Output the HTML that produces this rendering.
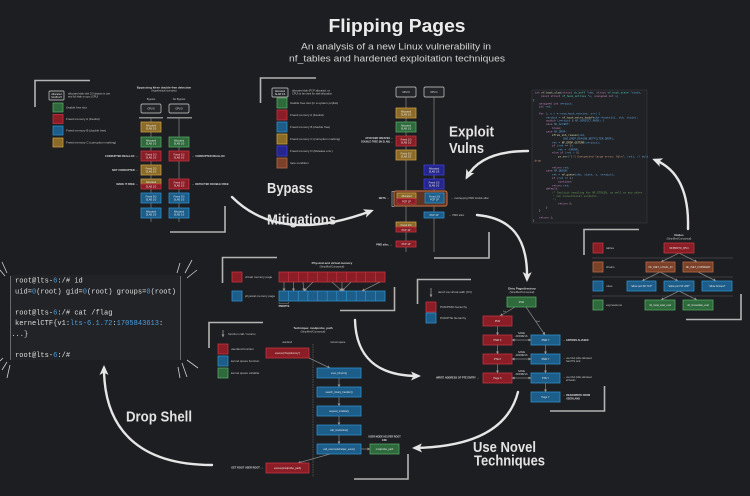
<!DOCTYPE html>
<html><head><meta charset="utf-8"><style>
html,body{margin:0;padding:0;background:#1d1e21;overflow:hidden}
svg{display:block}
.r{fill:#8a1d25;stroke:#c33441;stroke-width:.8}
.g{fill:#2e6a3b;stroke:#54a563;stroke-width:.8}
.b{fill:#1c5d8a;stroke:#2f8fcb;stroke-width:.8}
.y{fill:#8c6b28;stroke:#c99d42;stroke-width:.8}
.n{fill:#25258e;stroke:#3e3ed6;stroke-width:.8}
.o{fill:#7b4129;stroke:#b76a47;stroke-width:.8}
.k{fill:#242528;stroke:#a8a8a8;stroke-width:.9}
.br{fill:none;stroke:#b4b4b4;stroke-width:1.6}
.ln{stroke:#858585;stroke-width:.7;fill:none}
.t{font-family:"Liberation Sans",sans-serif;font-size:3px;fill:#c4c4c4}
.tb{font-family:"Liberation Sans",sans-serif;font-size:3px;fill:#dcdcdc;font-weight:bold}
.bt{font-family:"Liberation Sans",sans-serif;font-size:2.5px;fill:#e6e6e6;text-anchor:middle}
.big{font-family:"Liberation Sans",sans-serif;font-weight:bold;font-size:15px;fill:#e2e2e2}
.arr{fill:none;stroke:#e6e6e6;stroke-width:2.4;stroke-linecap:round}
.term{font-family:"Liberation Mono",monospace;font-size:7.6px;fill:#dedede}
.num{fill:#4a9ee0}
.code{font-family:"Liberation Mono",monospace;font-size:2.7px;fill:#5fa3d9}
.kw{fill:#c586c0}.fn{fill:#dcdcaa}.cm{fill:#6a9955}.ty{fill:#4ec9b0}.st{fill:#ce9178}
.sp{stroke:#cfcfcf;stroke-width:.8}
</style></head><body>
<svg width="750" height="496" viewBox="0 0 750 496" xmlns="http://www.w3.org/2000/svg">
<defs>
<marker id="ah" markerUnits="userSpaceOnUse" markerWidth="10" markerHeight="10" viewBox="0 0 10 10" refX="7" refY="5" orient="auto"><path d="M0,0.5 L10,5 L0,9.5 L2.5,5 z" fill="#e6e6e6"/></marker>
<marker id="sa" markerUnits="userSpaceOnUse" markerWidth="3" markerHeight="3" viewBox="0 0 10 10" refX="9" refY="5" orient="auto"><path d="M0,0 L10,5 L0,10 z" fill="#9a9a9a"/></marker>
<marker id="sb" markerUnits="userSpaceOnUse" markerWidth="3" markerHeight="3" viewBox="0 0 10 10" refX="1" refY="5" orient="auto"><path d="M10,0 L0,5 L10,10 z" fill="#9a9a9a"/></marker>
</defs>
<rect width="750" height="496" fill="#1d1e21"/>

<!-- Title -->
<text x="397" y="32" text-anchor="middle" textLength="137" lengthAdjust="spacingAndGlyphs" style="font-family:'Liberation Sans',sans-serif;font-weight:bold;font-size:18.5px;fill:#ececec">Flipping Pages</text>
<text x="396" y="49.5" text-anchor="middle" textLength="190" lengthAdjust="spacingAndGlyphs" style="font-family:'Liberation Sans',sans-serif;font-size:9.3px;fill:#d4d4d4">An analysis of a new Linux vulnerability in</text>
<text x="397" y="61.5" text-anchor="middle" textLength="216" lengthAdjust="spacingAndGlyphs" style="font-family:'Liberation Sans',sans-serif;font-size:9.3px;fill:#d4d4d4">nf_tables and hardened exploitation techniques</text>

<!-- Big labels -->
<text class="big" x="449" y="136.5" textLength="45" lengthAdjust="spacingAndGlyphs">Exploit</text>
<text class="big" x="449" y="153" textLength="35" lengthAdjust="spacingAndGlyphs">Vulns</text>
<text class="big" x="267" y="193" textLength="46" lengthAdjust="spacingAndGlyphs">Bypass</text>
<text class="big" x="267" y="224.5" textLength="69" lengthAdjust="spacingAndGlyphs">Mitigations</text>
<text class="big" x="126" y="421.5" textLength="66" lengthAdjust="spacingAndGlyphs">Drop Shell</text>
<text class="big" x="473" y="452" textLength="63" lengthAdjust="spacingAndGlyphs">Use Novel</text>
<text class="big" x="474" y="465.5" textLength="71" lengthAdjust="spacingAndGlyphs">Techniques</text>

<!-- Big arrows -->
<path class="arr" d="M232,197 Q280,245 371,211" marker-end="url(#ah)"/>
<path class="arr" d="M528,151 Q481,151 467,177" marker-end="url(#ah)"/>
<path class="arr" d="M688,229 C689,195 680,170 655,160" marker-end="url(#ah)"/>
<path class="arr" d="M477,215 C510,218 528,236 527,279" marker-end="url(#ah)"/>
<path class="arr" d="M355,320 C356,356 376,376 418,376" marker-end="url(#ah)"/>
<path class="arr" d="M518,392 C508,431 470,447 415,448" marker-end="url(#ah)"/>
<path class="arr" d="M212,465 C140,465 104,430 104,368" marker-end="url(#ah)"/>

<!-- ============ Diagram 1 (top-left) ============ -->
<polyline class="br" points="35,107 35,80.5 90,80.5"/>
<polyline class="br" points="170,232 225,232 225,206"/>
<rect class="k" x="49" y="91" width="15" height="9" rx="1"/>
<text class="bt" x="56.5" y="95">Allocated</text><text class="bt" x="56.5" y="98">SLAB 2/3</text>
<text class="t" x="68" y="94.5" style="font-size:2.6px">allocated slab with 2/3 objects in use</text>
<text class="t" x="68" y="97.5" style="font-size:2.6px">and full slab on cpu (CPU)</text>
<rect class="g" x="53" y="103" width="10" height="9"/><text class="t" x="66" y="108.5">Usable free slot</text>
<rect class="r" x="53" y="114.5" width="10" height="9"/><text class="t" x="66" y="120">Freed memory A (freelist)</text>
<rect class="b" x="53" y="126" width="10" height="9"/><text class="t" x="66" y="131.5">Freed memory B (double free)</text>
<rect class="y" x="53" y="138" width="10" height="9"/><text class="t" x="66" y="143.5">Freed memory C (corruption marking)</text>
<text class="tb" x="164" y="88.5" text-anchor="middle">Bypassing kfree double-free detection</text>
<text class="t" x="164" y="91.5" text-anchor="middle" style="font-size:2.5px">(hypothetical scenario)</text>
<text class="t" x="151" y="100" text-anchor="middle" style="font-size:2.6px">Bypass</text>
<text class="t" x="179" y="100" text-anchor="middle" style="font-size:2.6px">No Bypass</text>
<rect class="k" x="141" y="104" width="20" height="9" rx="1.5"/><text class="bt" x="151" y="109.5">CPU 0</text>
<rect class="k" x="169" y="104" width="20" height="9" rx="1.5"/><text class="bt" x="179" y="109.5">CPU 0</text>
<rect x="139" y="117" width="24" height="1.5" fill="#8a8a8a"/>
<rect x="167" y="117" width="25" height="1.5" fill="#8a8a8a"/>
<line class="ln" x1="151" y1="118" x2="151" y2="222"/>
<line class="ln" x1="179" y1="118" x2="179" y2="222"/>
<rect class="y" x="141" y="122" width="20" height="10"/><text class="bt" x="151" y="126.3">Allocated</text><text class="bt" x="151" y="129.5">SLAB 2/3</text>
<rect class="g" x="141" y="137" width="20" height="10"/><text class="bt" x="151" y="141.3">Allocated</text><text class="bt" x="151" y="144.5">SLAB 1/3</text>
<rect class="r" x="141" y="151" width="20" height="10"/><text class="bt" x="151" y="155.3">Freed 1/3</text><text class="bt" x="151" y="158.5">SLAB 1/3</text>
<rect class="y" x="141" y="165" width="20" height="10"/><text class="bt" x="151" y="169.3">Freed 2/3</text><text class="bt" x="151" y="172.5">SLAB 2/3</text>
<rect class="y" x="141" y="179" width="20" height="5"/><rect class="r" x="141" y="184" width="20" height="5"/><text class="bt" x="151" y="183">Allocated</text><text class="bt" x="151" y="187.5">SLAB 1/3</text>
<rect class="b" x="141" y="193" width="20" height="10"/><text class="bt" x="151" y="197.3">Freed 3/3</text><text class="bt" x="151" y="200.5">SLAB 1/3</text>
<rect class="b" x="141" y="208" width="20" height="10"/><text class="bt" x="151" y="212.3">Allocated</text><text class="bt" x="151" y="215.5">SLAB 1/3</text>
<rect class="g" x="169" y="137" width="20" height="10"/><text class="bt" x="179" y="141.3">Allocated</text><text class="bt" x="179" y="144.5">SLAB 1/3</text>
<rect class="r" x="169" y="151" width="20" height="10"/><text class="bt" x="179" y="155.3">Freed 1/3</text><text class="bt" x="179" y="158.5">SLAB 1/3</text>
<rect class="r" x="169" y="179" width="20" height="10"/><text class="bt" x="179" y="183.3">Freed 1/3</text><text class="bt" x="179" y="186.5">SLAB 1/3</text>
<rect class="b" x="169" y="193" width="20" height="10"/><text class="bt" x="179" y="197.3">Freed 3/3</text><text class="bt" x="179" y="200.5">SLAB 1/3</text>
<rect class="b" x="169" y="208" width="20" height="10"/><text class="bt" x="179" y="212.3">Allocated</text><text class="bt" x="179" y="215.5">SLAB 1/3</text>
<text class="tb" x="138" y="157" text-anchor="end" style="font-size:2.6px">CORRUPTED REALLOC →</text>
<text class="tb" x="138" y="171" text-anchor="end" style="font-size:2.6px">NOT CORRUPTED →</text>
<text class="tb" x="138" y="185" text-anchor="end" style="font-size:2.6px">MADE IT FREE →</text>
<text class="tb" x="192" y="157" style="font-size:2.6px">← CORRUPTED REALLOC</text>
<text class="tb" x="192" y="185" style="font-size:2.6px">← DETECTED DOUBLE FREE</text>

<!-- ============ Diagram 2 (top-middle) ============ -->
<polyline class="br" points="260.5,103 260.5,78 316,78"/>
<polyline class="br" points="434,258 489,258 489,232"/>
<rect class="k" x="272" y="88" width="16" height="9" rx="1"/>
<text class="bt" x="280" y="92">Allocated</text><text class="bt" x="280" y="95">SLAB 2/3</text>
<text class="t" x="292" y="91.5" style="font-size:2.6px">allocated slab (PCP allocated, on</text>
<text class="t" x="292" y="94.5" style="font-size:2.6px">CPU) to be used for slab allocation</text>
<rect class="g" x="277" y="98" width="10" height="10"/><text class="t" x="290" y="104">Usable free slot (in a system pcplist)</text>
<rect class="r" x="277" y="110" width="10" height="10"/><text class="t" x="290" y="116">Freed memory A (freelist)</text>
<rect class="b" x="277" y="122" width="10" height="10"/><text class="t" x="290" y="128">Freed memory B (double free)</text>
<rect class="y" x="277" y="134" width="10" height="10"/><text class="t" x="290" y="140">Freed memory C (corruption marking)</text>
<rect class="n" x="277" y="146" width="10" height="10"/><text class="t" x="290" y="152">Freed memory D (Release env.)</text>
<rect class="o" x="277" y="158" width="10" height="10"/><text class="t" x="290" y="164">race condition</text>
<rect class="k" x="396" y="87" width="20" height="10" rx="1.5"/><text class="bt" x="406" y="92.8">CPU 0</text>
<rect class="k" x="424" y="87" width="20" height="10" rx="1.5"/><text class="bt" x="434" y="92.8">CPU 1</text>
<line class="ln" x1="406" y1="97" x2="406" y2="252"/>
<line class="ln" x1="434" y1="97" x2="434" y2="252"/>
<rect class="y" x="396" y="108" width="20" height="10"/><text class="bt" x="406" y="112.3">Allocated</text><text class="bt" x="406" y="115.5">SLAB 2/3</text>
<rect class="g" x="396" y="122" width="20" height="10"/><text class="bt" x="406" y="126.3">Allocated</text><text class="bt" x="406" y="129.5">SLAB 1/3</text>
<rect class="r" x="396" y="136" width="20" height="10"/><text class="bt" x="406" y="140.3">Freed 1/3</text><text class="bt" x="406" y="143.5">SLAB 1/3</text>
<rect class="y" x="396" y="150" width="20" height="10"/><text class="bt" x="406" y="154.3">Freed 2/3</text><text class="bt" x="406" y="157.5">SLAB 2/3</text>
<rect class="n" x="424" y="165" width="20" height="10"/><text class="bt" x="434" y="169.3">Allocated</text><text class="bt" x="434" y="172.5">SLAB 1/3</text>
<rect class="n" x="424" y="179" width="20" height="10"/><text class="bt" x="434" y="183.3">Freed 1/3</text><text class="bt" x="434" y="186.5">SLAB 1/3</text>
<rect x="394" y="191" width="53" height="15" rx="2" fill="#5e3423" stroke="#b5633f" stroke-width="1.2"/>
<rect class="y" x="397" y="193" width="19" height="5.5"/><rect class="r" x="397" y="198.5" width="19" height="5.5"/>
<text class="bt" x="406.5" y="197">Allocated</text><text class="bt" x="406.5" y="202.5">PCP 1P</text>
<rect class="b" x="425" y="193" width="19" height="10"/><text class="bt" x="434.5" y="197.3">Freed 3/3</text><text class="bt" x="434.5" y="200.5">PCP 1P</text>
<polyline fill="none" stroke="#aaa" stroke-width=".7" points="394.5,191.5 392,191.5 392,206.5 394.5,206.5"/>
<text class="tb" x="389" y="199" text-anchor="end" style="font-size:2.6px">NETS →</text>
<text class="t" x="451" y="199" style="font-size:2.6px">← overlapping PMD double alloc</text>
<rect class="b" x="424" y="212" width="20" height="6"/><text class="bt" x="434" y="215.8">PCP 1P</text>
<text class="t" x="449" y="216" style="font-size:2.6px">← PMD alloc</text>
<rect class="y" x="396" y="222" width="20" height="5"/><rect class="r" x="396" y="227" width="20" height="5"/>
<text class="bt" x="406" y="225.8">Freed 2/3</text><text class="bt" x="406" y="230.8">PCP 1P</text>
<rect class="r" x="396" y="241" width="20" height="6"/><text class="bt" x="406" y="244.8">PCP 1P</text>
<text class="tb" x="392" y="245.5" text-anchor="end" style="font-size:2.6px">PMD alloc →</text>
<text class="tb" x="393" y="139" text-anchor="end" style="font-size:2.4px">ATTACKER CREATES →</text>
<text class="tb" x="393" y="142.5" text-anchor="end" style="font-size:2.4px">DOUBLE FREE (IN SLAB) →</text>

<!-- ============ Code panel ============ -->
<rect x="532" y="90" width="115" height="133" fill="#212226" stroke="#3a3b40" stroke-width=".6"/>
<g class="code">
<text x="535" y="93.7"><tspan class="kw">int</tspan> <tspan class="fn">nf_hook_slow</tspan>(<tspan class="kw">struct</tspan> <tspan class="ty">sk_buff</tspan> *skb, <tspan class="kw">struct</tspan> <tspan class="ty">nf_hook_state</tspan> *state,</text>
<text x="541" y="97"><tspan class="kw">const struct</tspan> <tspan class="ty">nf_hook_entries</tspan> *e, <tspan class="kw">unsigned int</tspan> s)</text>
<text x="533" y="101" fill="#cfcfcf">{</text>
<text x="539" y="104.3"><tspan class="kw">unsigned int</tspan> verdict;</text>
<text x="539" y="107.7"><tspan class="kw">int</tspan> ret;</text>
<text x="539" y="114.3"><tspan class="kw">for</tspan> (; s &lt; e-&gt;num_hook_entries; s++) {</text>
<text x="546" y="118.3">verdict = <tspan class="fn">nf_hook_entry_hookfn</tspan>(&amp;e-&gt;hooks[s], skb, state);</text>
<text x="546" y="121.7"><tspan class="kw">switch</tspan> (verdict &amp; NF_VERDICT_MASK) {</text>
<text x="546" y="125"><tspan class="kw">case</tspan> NF_ACCEPT:</text>
<text x="552" y="129" class="kw">break;</text>
<text x="546" y="132.7"><tspan class="kw">case</tspan> NF_DROP:</text>
<text x="552" y="136"><tspan class="fn">kfree_skb_reason</tspan>(skb,</text>
<text x="563" y="139.7">SKB_DROP_REASON_NETFILTER_DROP);</text>
<text x="552" y="143.3">ret = <tspan class="fn">NF_DROP_GETERR</tspan>(verdict);</text>
<text x="552" y="146.7"><tspan class="kw">if</tspan> (ret == <tspan class="st">0</tspan>)</text>
<text x="558" y="150.3">ret = -EPERM;</text>
<text x="552" y="153.7"><tspan class="kw">else if</tspan> (ret &gt; <tspan class="st">0</tspan>)</text>
<text x="558" y="157.7"><tspan class="fn">pr_err</tspan>(<tspan class="st">"[!] Unexpected large errno: %d\n"</tspan>, ret); // mult</text>
<text x="533" y="161.3" class="st">.drop</text>
<text x="552" y="168.3"><tspan class="kw">return</tspan> ret;</text>
<text x="546" y="171.7"><tspan class="kw">case</tspan> NF_QUEUE:</text>
<text x="552" y="175.7">ret = <tspan class="fn">nf_queue</tspan>(skb, state, s, verdict);</text>
<text x="552" y="179"><tspan class="kw">if</tspan> (ret == <tspan class="st">1</tspan>)</text>
<text x="558" y="182.3" class="kw">continue;</text>
<text x="552" y="186.3"><tspan class="kw">return</tspan> ret;</text>
<text x="546" y="189.7" class="kw">default:</text>
<text x="552" y="193.7" class="cm">/* Implicit handling for NF_STOLEN, as well as any other</text>
<text x="553" y="197" class="cm">* non conventional verdicts.</text>
<text x="553" y="200.3" class="cm">*/</text>
<text x="558" y="204.3"><tspan class="kw">return</tspan> <tspan class="st">0</tspan>;</text>
<text x="546" y="208.3" fill="#cfcfcf">}</text>
<text x="539" y="211.7" fill="#cfcfcf">}</text>
<text x="539" y="218.3"><tspan class="kw">return</tspan> <tspan class="st">1</tspan>;</text>
<text x="533" y="221.7" fill="#cfcfcf">}</text>
</g>

<!-- ============ Right tree (nodes) ============ -->
<polyline class="br" points="584,255 584,229.5 639,229.5"/>
<polyline class="br" points="686,319.5 741,319.5 741,294"/>
<text class="tb" x="679" y="236" text-anchor="middle">Nodes</text>
<text class="t" x="679" y="239.5" text-anchor="middle" style="font-size:2.4px">(Simplified/Conceptual)</text>
<line x1="592" y1="258" x2="733" y2="258" stroke="#4a4b4f" stroke-width=".8"/>
<line x1="592" y1="277" x2="733" y2="277" stroke="#4a4b4f" stroke-width=".8"/>
<line x1="592" y1="296" x2="733" y2="296" stroke="#4a4b4f" stroke-width=".8"/>
<rect class="r" x="593" y="243" width="10" height="10"/><text class="t" x="606" y="249">tables</text>
<rect class="o" x="593" y="262" width="10" height="10"/><text class="t" x="606" y="268">chains</text>
<rect class="b" x="593" y="281" width="10" height="10"/><text class="t" x="606" y="287">rules</text>
<rect class="g" x="593" y="300" width="10" height="10"/><text class="t" x="606" y="306">expressions</text>
<line class="ln" x1="679" y1="253" x2="661" y2="262" marker-end="url(#sa)"/>
<line class="ln" x1="679" y1="253" x2="697" y2="262" marker-end="url(#sa)"/>
<line class="ln" x1="660" y1="272" x2="642" y2="281" marker-end="url(#sa)"/>
<line class="ln" x1="660" y1="272" x2="678" y2="281" marker-end="url(#sa)"/>
<line class="ln" x1="698" y1="272" x2="716" y2="281" marker-end="url(#sa)"/>
<line class="ln" x1="679" y1="291" x2="661" y2="300" marker-end="url(#sa)"/>
<line class="ln" x1="679" y1="291" x2="697" y2="300" marker-end="url(#sa)"/>
<rect class="r" x="664" y="243" width="30" height="10"/><text class="bt" x="679" y="249">NFPROTO_IPV4</text>
<rect class="o" x="646" y="262" width="29" height="10"/><text class="bt" x="660.5" y="268">NF_INET_LOCAL_IN</text>
<rect class="o" x="683" y="262" width="30" height="10"/><text class="bt" x="698" y="268">NF_INET_FORWARD</text>
<rect class="b" x="627" y="281" width="29" height="10"/><text class="bt" x="641.5" y="287">"allow port 80 TCP"</text>
<rect class="b" x="664" y="281" width="30" height="10"/><text class="bt" x="679" y="287">"allow port 53 UDP"</text>
<rect class="b" x="702" y="281" width="30" height="10"/><text class="bt" x="717" y="287">"allow forward"</text>
<rect class="g" x="645" y="300" width="30" height="10"/><text class="bt" x="660" y="306">nft_meta_load_eval</text>
<rect class="g" x="683" y="300" width="30" height="10"/><text class="bt" x="698" y="306">nft_immediate_eval</text>

<!-- ============ Terminal ============ -->
<rect x="10" y="275" width="171" height="85" fill="#222326"/>
<line x1="10.5" y1="276" x2="10.5" y2="360" stroke="#8a8a8a" stroke-width=".7"/>
<line x1="180.5" y1="276" x2="180.5" y2="360" stroke="#8a8a8a" stroke-width=".7"/>
<g transform="translate(15,0) scale(0.93,1)">
<text class="term" x="0" y="282.5">root@lts-<tspan class="num">6</tspan>:/# id</text>
<text class="term" x="0" y="293.5">uid=<tspan class="num">0</tspan>(root) gid=<tspan class="num">0</tspan>(root) groups=<tspan class="num">0</tspan>(root)</text>
<text class="term" x="0" y="314.5">root@lts-<tspan class="num">6</tspan>:/# cat /flag</text>
<text class="term" x="0" y="325">kernelCTF{v1:<tspan class="num">lts-6.1.72</tspan>:<tspan class="num">1705843613</tspan>:</text>
<text class="term" x="-4" y="336">...}</text>
<text class="term" x="0" y="357">root@lts-<tspan class="num">6</tspan>:/#</text>
</g>
<line class="sp" x1="2" y1="262" x2="7" y2="273"/>
<line class="sp" x1="0" y1="270" x2="5" y2="276"/>
<line class="sp" x1="180" y1="263" x2="177" y2="273"/>
<line class="sp" x1="192" y1="260" x2="185" y2="273"/>
<line class="sp" x1="197" y1="270" x2="187" y2="278"/>
<line class="sp" x1="182" y1="363" x2="187" y2="377"/>
<line class="sp" x1="187" y1="360" x2="198" y2="368"/>
<line class="sp" x1="178" y1="367" x2="180" y2="378"/>
<line class="sp" x1="7" y1="362" x2="2" y2="370"/>
<line class="sp" x1="10" y1="365" x2="7" y2="378"/>
<line class="sp" x1="3" y1="358" x2="0" y2="361"/>

<!-- ============ Memory diagram ============ -->
<polyline class="br" points="222.5,283 222.5,257.5 277,257.5"/>
<polyline class="br" points="340,310.5 394.5,310.5 394.5,287"/>
<text class="tb" x="332" y="264" text-anchor="middle">Physical and virtual memory</text>
<text class="t" x="332" y="267.5" text-anchor="middle" style="font-size:2.4px">(Simplified/Conceptual)</text>
<rect class="r" x="232" y="272" width="10" height="10"/><text class="t" x="245" y="278">virtual memory page</text>
<rect class="b" x="232" y="291" width="10" height="10"/><text class="t" x="245" y="297">physical memory page</text>
<g>
<rect class="r" x="279" y="272" width="106" height="10"/>
<rect class="b" x="279" y="291" width="106" height="10"/>
<path d="M288.6,272v10M298.3,272v10M307.9,272v10M317.5,272v10M327.2,272v10M336.8,272v10M346.4,272v10M356.1,272v10M365.7,272v10M375.4,272v10" stroke="#c33441" stroke-width=".7"/>
<path d="M288.6,291v10M298.3,291v10M307.9,291v10M317.5,291v10M327.2,291v10M336.8,291v10M346.4,291v10M356.1,291v10M365.7,291v10M375.4,291v10" stroke="#2f8fcb" stroke-width=".7"/>
</g>
<line class="ln" x1="284" y1="282" x2="284" y2="291" marker-end="url(#sa)"/>
<line class="ln" x1="293.5" y1="282" x2="293.5" y2="291" marker-end="url(#sa)"/>
<line class="ln" x1="303" y1="282" x2="304" y2="291" marker-end="url(#sa)"/>
<line class="ln" x1="313" y1="282" x2="304" y2="291" marker-end="url(#sa)"/>
<line class="ln" x1="332" y1="282" x2="342" y2="291" marker-end="url(#sa)"/>
<line class="ln" x1="342" y1="282" x2="342" y2="291" marker-end="url(#sa)"/>
<line class="ln" x1="351" y1="282" x2="342" y2="291" marker-end="url(#sa)"/>
<line class="ln" x1="380" y1="282" x2="362" y2="291" marker-end="url(#sa)"/>
<polyline fill="none" stroke="#888" stroke-width=".5" points="279,302 279,303.5 288.6,303.5 288.6,302"/>
<text class="tb" x="284" y="307" text-anchor="middle" style="font-size:2.4px">PMD/PTE</text>

<!-- ============ modprobe_path diagram ============ -->
<polyline class="br" points="209,348 209,322.5 263,322.5"/>
<polyline class="br" points="354,479 408,479 408,454"/>
<line x1="223" y1="330" x2="223" y2="337" stroke="#aaa" stroke-width=".7" marker-end="url(#sa)"/>
<text class="t" x="228" y="335">function call / returns</text>
<rect class="r" x="218" y="344" width="10" height="10"/><text class="t" x="231" y="350">userland function</text>
<rect class="b" x="218" y="356" width="10" height="10"/><text class="t" x="231" y="362">kernel space function</text>
<rect class="g" x="218" y="368" width="10" height="10"/><text class="t" x="231" y="374">kernel space variable</text>
<text class="tb" x="313" y="329" text-anchor="middle">Technique: modprobe_path</text>
<text class="t" x="313" y="332.5" text-anchor="middle" style="font-size:2.4px">(Simplified/Conceptual)</text>
<text class="t" x="287" y="343" text-anchor="middle" style="font-size:2.6px">userland</text>
<text class="t" x="338" y="343" text-anchor="middle" style="font-size:2.6px">kernel space</text>
<line x1="313" y1="344" x2="313" y2="477" stroke="#6d6d6d" stroke-width=".6" stroke-dasharray="1.5,1"/>
<rect class="r" x="266" y="348" width="43" height="10"/><text class="bt" x="287.5" y="354">execve("/tmp/dummy")</text>
<line class="ln" x1="309" y1="358" x2="330" y2="368" marker-end="url(#sa)"/>
<rect class="b" x="317" y="368" width="44" height="10"/><text class="bt" x="339" y="374">exec_binprm()</text>
<line class="ln" x1="339" y1="378" x2="339" y2="387" marker-end="url(#sa)"/>
<rect class="b" x="317" y="387" width="44" height="10"/><text class="bt" x="339" y="393">search_binary_handler()</text>
<line class="ln" x1="339" y1="397" x2="339" y2="406" marker-end="url(#sa)"/>
<rect class="b" x="317" y="406" width="44" height="10"/><text class="bt" x="339" y="412">request_module()</text>
<line class="ln" x1="339" y1="416" x2="339" y2="425" marker-end="url(#sa)"/>
<rect class="b" x="317" y="425" width="44" height="10"/><text class="bt" x="339" y="431">call_modprobe()</text>
<line class="ln" x1="339" y1="435" x2="339" y2="444" marker-end="url(#sa)"/>
<rect class="b" x="317" y="444" width="44" height="10"/><text class="bt" x="339" y="450">call_usermodehelper_exec()</text>
<line class="ln" x1="361" y1="449" x2="370" y2="449" marker-end="url(#sa)"/>
<rect class="g" x="370" y="444" width="29" height="10"/><text class="bt" x="384.5" y="450">modprobe_path</text>
<text class="tb" x="384.5" y="437.5" text-anchor="middle" style="font-size:2.4px">USER MODE HELPER ROOT</text>
<text class="tb" x="384.5" y="441" text-anchor="middle" style="font-size:2.4px">EXE</text>
<line class="ln" x1="330" y1="454" x2="298" y2="463" marker-end="url(#sa)"/>
<rect class="r" x="266" y="463" width="43" height="10"/><text class="bt" x="287.5" y="469">execve(modprobe_path)</text>
<text class="tb" x="263" y="468.5" text-anchor="end" style="font-size:2.5px">GET ROOT USER ROOT →</text>

<!-- ============ Dirty Pagedirectory ============ -->
<polyline class="br" points="417.5,304 417.5,279.5 471,279.5"/>
<polyline class="br" points="550,411 604.5,411 604.5,386"/>
<line x1="431" y1="288" x2="431" y2="297" stroke="#aaa" stroke-width=".7" marker-end="url(#sa)"/>
<text class="t" x="438" y="293">deref via virtual addr (KV)</text>
<rect class="r" x="426" y="302" width="10" height="10"/><text class="t" x="440" y="308">PUD/PMD hierarchy</text>
<rect class="b" x="426" y="313" width="10" height="10"/><text class="t" x="440" y="319">PUD/PTE hierarchy</text>
<text class="tb" x="522" y="289.5" text-anchor="middle">Dirty Pagedirectory</text>
<text class="t" x="522" y="293" text-anchor="middle" style="font-size:2.4px">(Simplified/Conceptual)</text>
<rect class="g" x="507" y="297" width="29" height="10"/><text class="bt" x="521.5" y="303">PGD</text>
<line class="ln" x1="515" y1="307" x2="500" y2="316" marker-end="url(#sa)"/>
<line class="ln" x1="526" y1="307" x2="545" y2="335" marker-end="url(#sa)"/>
<text class="t" x="503" y="312" style="font-size:2.2px">1st</text>
<text class="t" x="536" y="322" style="font-size:2.2px">2nd</text>
<rect class="r" x="483" y="316" width="29" height="10"/><text class="bt" x="497.5" y="322">PUD</text>
<rect class="r" x="483" y="335" width="29" height="10"/><text class="bt" x="497.5" y="341">PMD X</text>
<rect class="r" x="483" y="354" width="29" height="10"/><text class="bt" x="497.5" y="360">PTE X</text>
<rect class="r" x="483" y="373" width="29" height="10"/><text class="bt" x="497.5" y="379">Page X</text>
<rect class="b" x="531" y="335" width="29" height="10"/><text class="bt" x="545.5" y="341">PMD Y</text>
<rect class="b" x="531" y="354" width="29" height="10"/><text class="bt" x="545.5" y="360">PMD Y</text>
<rect class="b" x="531" y="373" width="29" height="10"/><text class="bt" x="545.5" y="379">PTE Y</text>
<rect class="b" x="531" y="392" width="29" height="10"/><text class="bt" x="545.5" y="398">Page Y</text>
<line class="ln" x1="497.5" y1="326" x2="497.5" y2="335" marker-end="url(#sa)"/>
<line class="ln" x1="497.5" y1="345" x2="497.5" y2="354" marker-end="url(#sa)"/>
<line class="ln" x1="497.5" y1="364" x2="497.5" y2="373" marker-end="url(#sa)"/>
<line class="ln" x1="545.5" y1="345" x2="545.5" y2="354" marker-end="url(#sa)"/>
<line class="ln" x1="545.5" y1="364" x2="545.5" y2="373" marker-end="url(#sa)"/>
<line class="ln" x1="545.5" y1="383" x2="545.5" y2="392" marker-end="url(#sa)"/>
<line class="ln" x1="512" y1="340" x2="531" y2="340" marker-start="url(#sb)" marker-end="url(#sa)"/>
<line class="ln" x1="512" y1="359" x2="531" y2="359" marker-start="url(#sb)" marker-end="url(#sa)"/>
<line class="ln" x1="512" y1="378" x2="531" y2="378" marker-start="url(#sb)" marker-end="url(#sa)"/>
<text class="bt" x="521.5" y="334" style="fill:#cfcfcf">SAME</text><text class="bt" x="521.5" y="337" style="fill:#cfcfcf">ADDRESS</text>
<text class="bt" x="521.5" y="353" style="fill:#cfcfcf">SAME</text><text class="bt" x="521.5" y="356" style="fill:#cfcfcf">ADDRESS</text>
<text class="bt" x="521.5" y="372" style="fill:#cfcfcf">SAME</text><text class="bt" x="521.5" y="375" style="fill:#cfcfcf">ADDRESS</text>
<text class="tb" x="563" y="341" style="font-size:2.5px">← ENTRIES ALIASED</text>
<text class="t" x="563" y="359" style="font-size:2.4px">← user Ref.(sible allocated</text>
<text class="t" x="566" y="362" style="font-size:2.4px">has PTE rank</text>
<text class="t" x="563" y="378" style="font-size:2.4px">← user Ref.(sible allocated</text>
<text class="t" x="566" y="381" style="font-size:2.4px">all banks</text>
<text class="tb" x="563" y="396" style="font-size:2.5px">← READ/WRITE FROM</text>
<text class="tb" x="566" y="399.5" style="font-size:2.5px">USERLAND</text>
<text class="tb" x="479" y="378.5" text-anchor="end" style="font-size:2.5px">WRITE ADDRESS OF PTE ENTRY →</text>
</svg>
</body></html>
